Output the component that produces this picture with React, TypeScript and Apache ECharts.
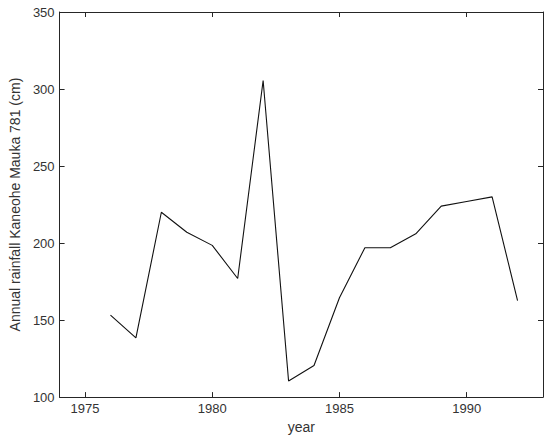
import React, { useEffect, useRef } from "react";
import * as echarts from "echarts";

const years = [1976, 1977, 1978, 1979, 1980, 1981, 1982, 1983, 1984, 1985, 1986, 1987, 1988, 1989, 1990, 1991, 1992];
const rainfall = [153.2, 138.4, 220, 207, 198.5, 177, 305.5, 110.5, 120.5, 164.5, 197, 197, 206, 224, 227, 230, 162.7];
const xTicks = [1975, 1980, 1985, 1990];
const yTicks = [100, 150, 200, 250, 300, 350];

export default function App() {
  const ref = useRef<HTMLDivElement>(null);
  useEffect(() => {
    const chart = echarts.init(ref.current!, null, { renderer: "svg" });
    const font = "'Liberation Sans', Arial, Helvetica, sans-serif";
    const axisColor = "#262626";
    const labelColor = "#333";
    const common = {
      axisLine: { show: true, onZero: false, lineStyle: { color: axisColor, width: 1 } },
      axisTick: { show: true, inside: true, length: 5, lineStyle: { color: axisColor } },
      splitLine: { show: false },
    };
    chart.setOption({
      animation: false,
      grid: { left: 55, right: 7, top: 12, bottom: 41, containLabel: false },
      xAxis: [
        {
          type: "value",
          min: 1974,
          max: 1993,
          position: "bottom",
          ...common,
          axisTick: { ...common.axisTick, customValues: xTicks },
          axisLabel: {
            customValues: xTicks,
            formatter: (v: number) => String(v),
            color: labelColor,
            fontSize: 13,
            fontFamily: font,
            margin: 5,
          },
          name: "year",
          nameLocation: "middle",
          nameGap: 20,
          nameTextStyle: { color: labelColor, fontSize: 14, fontFamily: font, verticalAlign: "top" },
        },
        {
          type: "value",
          min: 1974,
          max: 1993,
          position: "top",
          ...common,
          axisTick: { ...common.axisTick, customValues: xTicks },
          axisLabel: { show: false },
        },
      ],
      yAxis: [
        {
          type: "value",
          min: 100,
          max: 350,
          interval: 50,
          position: "left",
          ...common,
          axisTick: { ...common.axisTick, customValues: yTicks },
          axisLabel: {
            customValues: yTicks,
            formatter: (v: number) => String(v),
            color: labelColor,
            fontSize: 13,
            fontFamily: font,
            margin: 5,
          },
          name: "Annual rainfall Kaneohe Mauka 781 (cm)",
          nameLocation: "middle",
          nameGap: 31,
          nameTextStyle: { color: labelColor, fontSize: 14, fontFamily: font },
        },
        {
          type: "value",
          min: 100,
          max: 350,
          interval: 50,
          position: "right",
          ...common,
          axisTick: { ...common.axisTick, customValues: yTicks },
          axisLabel: { show: false },
        },
      ],
      series: [
        {
          type: "line",
          data: years.map((y, i) => [y, rainfall[i]]),
          showSymbol: false,
          lineStyle: { color: "#111", width: 1.1 },
          xAxisIndex: 0,
          yAxisIndex: 0,
        },
      ],
    });
    return () => chart.dispose();
  }, []);
  return (
    <div
      ref={ref}
      style={{ position: "absolute", left: 0, top: 0, width: 550, height: 439, background: "#fff" }}
    />
  );
}
